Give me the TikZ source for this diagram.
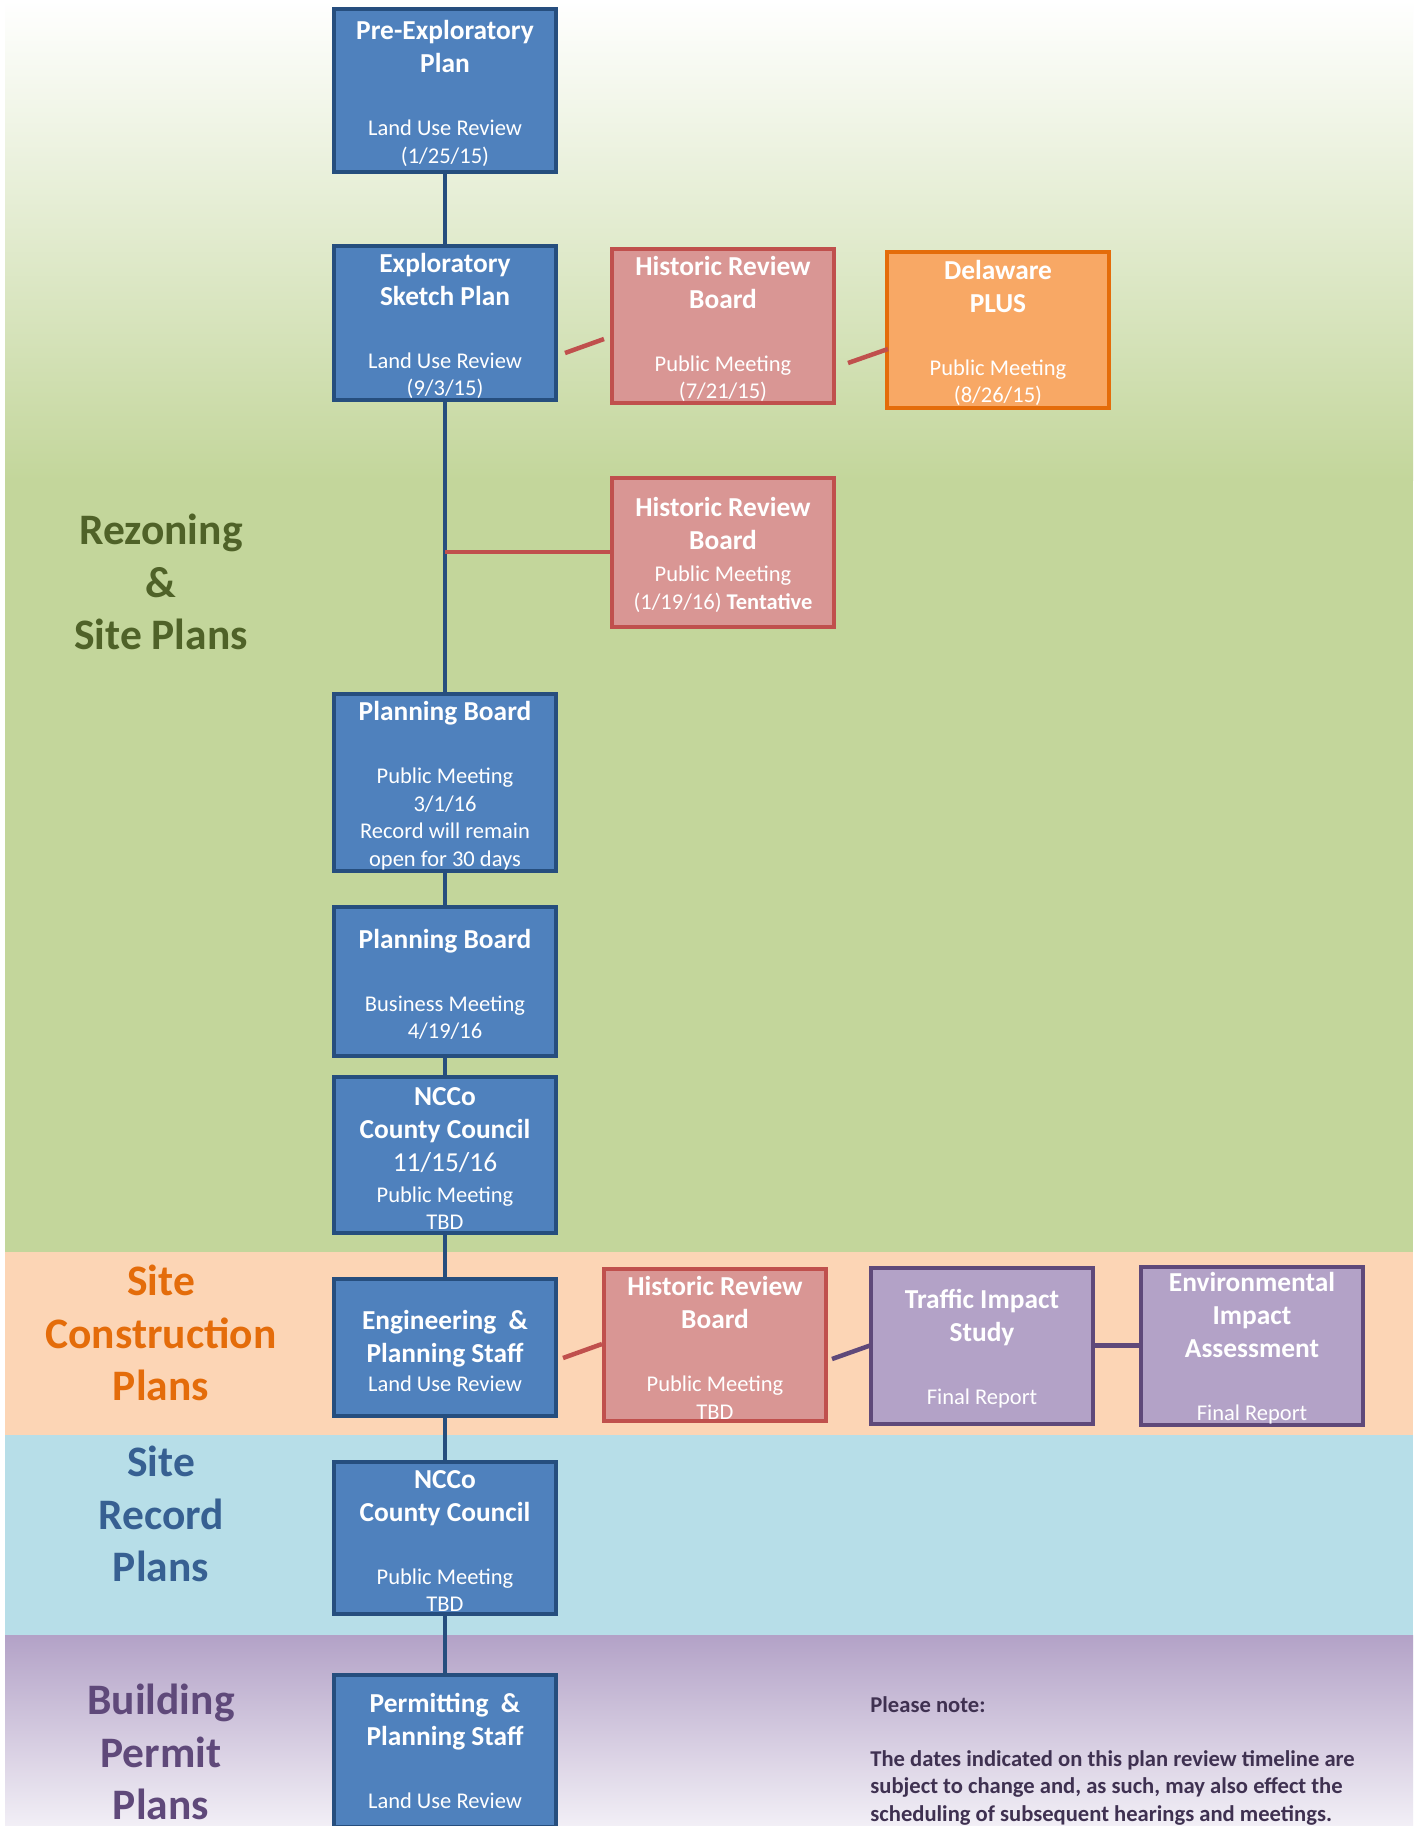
\documentclass[tikz,border=0pt]{standalone}
\usepackage{fontspec}
\setmainfont{Carlito}
\usetikzlibrary{calc}

\definecolor{stagefill}{HTML}{4F81BD}
\definecolor{stageline}{HTML}{264E7E}
\definecolor{hrbfill}{HTML}{D99694}
\definecolor{hrbline}{HTML}{C0504D}
\definecolor{plusfill}{HTML}{F8A865}
\definecolor{plusline}{HTML}{E46C0A}
\definecolor{studyfill}{HTML}{B3A2C7}
\definecolor{studyline}{HTML}{5F497A}
\definecolor{rezonebg}{HTML}{C3D69B}
\definecolor{constructbg}{HTML}{FCD5B5}
\definecolor{recordbg}{HTML}{B7DEE8}
\definecolor{permitbg}{HTML}{B3A2C7}
\definecolor{permitend}{HTML}{F2EFF6}
\definecolor{rezonetext}{HTML}{4F6228}
\definecolor{constructtext}{HTML}{E46C0A}
\definecolor{recordtext}{HTML}{376092}
\definecolor{permittext}{HTML}{5F497A}
\definecolor{notetext}{HTML}{3F3151}

\newcommand{\hd}{\fontsize{13.7}{16.5}\selectfont\bfseries}
\newcommand{\hdtop}{\hd\rule{0pt}{12.7pt}}
\newcommand{\bigdate}{\fontsize{13.7}{16.5}\selectfont}

\begin{document}
\begin{tikzpicture}[x=0.5pt,y=-0.5pt,
    stagebox/.style={draw=stageline,fill=stagefill,line width=2pt,minimum width=111pt,
      text=white,align=center,inner sep=0pt,font=\fontsize{11.25}{13.75}\selectfont},
    hrbbox/.style={stagebox,draw=hrbline,fill=hrbfill},
    plusbox/.style={stagebox,draw=plusline,fill=plusfill},
    studybox/.style={stagebox,draw=studyline,fill=studyfill},
    spine/.style={draw=stageline,line width=2.25pt},
    redlink/.style={draw=hrbline,line width=2.25pt},
    purplelink/.style={draw=studyline,line width=2.25pt},
    bandlabel/.style={font=\fontsize{21.75}{26.25}\selectfont\bfseries,align=center,inner sep=0pt}]
      \useasboundingbox (0,0) rectangle (1422,1826);
      \clip (0,0) rectangle (1422,1826);
      \fill[white] (0,0) rectangle (1422,1826);
      \shade[top color=white,bottom color=rezonebg] (5,0) rectangle (1413,480);
      \fill[rezonebg] (5,479) rectangle (1413,1252);
      \fill[constructbg] (5,1252) rectangle (1413,1435);
      \fill[recordbg] (5,1435) rectangle (1413,1635);
      \shade[top color=permitbg,bottom color=permitend] (5,1635) rectangle (1413,1826);

      \node[bandlabel,text=rezonetext] (rezoning) at (161,582) {Rezoning\\\&\\Site Plans};
      \node[bandlabel,text=constructtext] (construction) at (161,1333) {Site\\Construction\\Plans};
      \node[bandlabel,text=recordtext] (record) at (161,1514) {Site\\Record\\Plans};
      \node[bandlabel,text=permittext] (permit) at (161,1752) {Building\\Permit\\Plans};

      \node[stagebox,minimum height=81.5pt] (preplan) at (445,90.5)
        {{\hdtop Pre-Exploratory}\\[2.75pt]{\hd Plan}\\[17.75pt]Land Use Review\\(1/25/15)};
      \node[stagebox,minimum height=77pt] (sketch) at (445,323)
        {{\hdtop Exploratory}\\[2.75pt]{\hd Sketch Plan}\\[17.75pt]Land Use Review\\(9/3/15)};
      \node[hrbbox,minimum height=77pt] (hrbfirst) at (723,326)
        {{\hdtop Historic Review}\\[2.75pt]{\hd Board}\\[17.75pt]Public Meeting\\(7/21/15)};
      \node[plusbox,minimum height=78pt] (delplus) at (998,330)
        {{\hdtop Delaware}\\[2.75pt]{\hd PLUS}\\[17.75pt]Public Meeting\\(8/26/15)};
      \node[hrbbox,minimum height=74.5pt] (hrbsecond) at (723,552)
        {{\hdtop Historic Review}\\[2.75pt]{\hd Board}\\[2.25pt]Public Meeting\\(1/19/16) \textbf{Tentative}};
      \node[stagebox,minimum height=88.5pt] (boardpublic) at (445,782.5)
        {{\hdtop Planning Board}\\[17.75pt]Public Meeting\\3/1/16\\Record will remain\\open for 30 days};
      \node[stagebox,minimum height=74.5pt] (boardbusiness) at (445,981.5)
        {{\hdtop Planning Board}\\[17.75pt]Business Meeting\\4/19/16};
      \node[stagebox,minimum height=78pt] (councilfirst) at (445,1155)
        {{\hdtop NCCo}\\[2.75pt]{\hd County Council}\\[2.75pt]{\bigdate 11/15/16}\\[1.75pt]Public Meeting\\TBD};
      \node[stagebox,minimum height=68.5pt] (engstaff) at (445,1347.5)
        {{\hdtop Engineering~~\&}\\[2.75pt]{\hd Planning Staff}\\[0.75pt]Land Use Review};
      \node[hrbbox,minimum height=76pt] (hrbthird) at (715,1345)
        {{\hdtop Historic Review}\\[2.75pt]{\hd Board}\\[17.75pt]Public Meeting\\TBD};
      \node[studybox,minimum height=78pt] (traffic) at (982,1345.5)
        {{\hdtop Traffic Impact}\\[2.75pt]{\hd Study}\\[17.75pt]Final Report};
      \node[studybox,minimum height=78.5pt] (envimpact) at (1252,1345.5)
        {{\hdtop Environmental}\\[2.75pt]{\hd Impact}\\[2.75pt]{\hd Assessment}\\[17.75pt]Final Report};
      \node[stagebox,minimum height=76pt] (councilsecond) at (445,1537.5)
        {{\hdtop NCCo}\\[2.75pt]{\hd County Council}\\[17.75pt]Public Meeting\\TBD};
      \node[stagebox,minimum height=76pt] (permstaff) at (445,1751)
        {{\hd Permitting~~\&}\\[2.75pt]{\hd Planning Staff}\\[17.75pt]Land Use Review};

      \draw[spine] (preplan) -- (sketch);
      \draw[spine] (sketch) -- (boardpublic);
      \draw[spine] (boardpublic) -- (boardbusiness);
      \draw[spine] (boardbusiness) -- (councilfirst);
      \draw[spine] (councilfirst) -- (engstaff);
      \draw[spine] (engstaff) -- (councilsecond);
      \draw[spine] (councilsecond) -- (permstaff);
      \draw[redlink] ($(sketch.east)+(7,30)$) -- ($(hrbfirst.west)+(-6,13)$);
      \draw[redlink] ($(hrbfirst.east)+(12,37)$) -- ($(delplus.west)+(3,19)$);
      \draw[redlink] (hrbsecond.west) -- (hrbsecond.west -| sketch.south);
      \draw[redlink] ($(engstaff.east)+(5,10.5)$) -- ($(hrbthird.west)+(0,-1)$);
      \draw[purplelink] ($(hrbthird.east)+(4,14)$) -- ($(traffic.west)+(1,0)$);
      \draw[purplelink] (traffic) -- (envimpact);

      \node[anchor=north west,inner sep=0pt,align=left,text=notetext,
        font=\fontsize{11.3}{13.75}\selectfont\bfseries] (note) at (870,1696)
        {Please note:\\[13.25pt]The dates indicated on this plan review timeline are\\
         subject to change and, as such, may also effect the\\
         scheduling of subsequent hearings and meetings.};
    \end{tikzpicture}
\end{document}
